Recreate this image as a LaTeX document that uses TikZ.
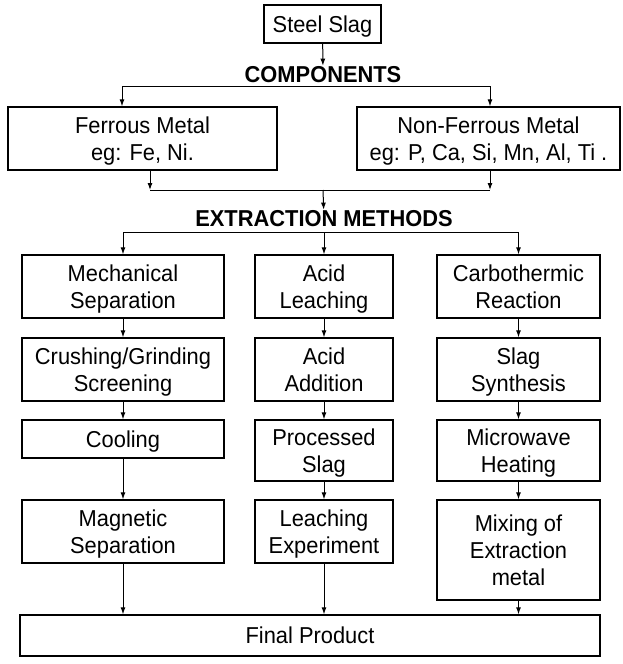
\documentclass[tikz,border=0pt]{standalone}
\usepackage{fontspec}
\setmainfont{Liberation Sans}[FakeStretch=0.95]
\usetikzlibrary{arrows.meta,positioning}

\begin{document}
\begin{tikzpicture}[x=1pt,y=-1pt, >={Latex[length=7pt,width=5pt]},
  box/.style={draw, line width=1.3pt, align=center, inner sep=0pt, text depth=0pt, font=\fontsize{23}{27}\selectfont},
  head/.style={inner sep=1pt, font=\fontsize{23}{27}\selectfont\bfseries},
  link/.style={->, line width=1pt},
  bar/.style={line width=1pt}]
  \useasboundingbox (0,0) rectangle (623,664);

  % top part
  \node[box, minimum width=117, minimum height=38] (slag) at (322.5,24) {Steel Slag};
  \node[head] (comp) at (323,75) {COMPONENTS};
  \node[box, minimum width=269, minimum height=63] (ferrous) at (142.5,138.5) {Ferrous Metal\\eg: Fe, Ni.};
  \node[box, minimum width=263, minimum height=63] (nonferrous) at (488.5,138.5) {Non-Ferrous Metal\\eg: P, Ca, Si, Mn, Al, Ti .};
  \node[head] (extract) at (324,219) {EXTRACTION METHODS};

  % three methods
  \node[box, minimum width=202, minimum height=63] (mech) at (123,286.5) {Mechanical\\Separation};
  \node[box, minimum width=202, minimum height=63] (crush) at (123,369.5) {Crushing/Grinding\\Screening};
  \node[box, minimum width=202, minimum height=38] (cool) at (123,439) {Cooling};
  \node[box, minimum width=202, minimum height=63] (magnet) at (123,531.5) {Magnetic\\Separation};

  \node[box, minimum width=138, minimum height=63] (acid) at (324,286.5) {Acid\\Leaching};
  \node[box, minimum width=138, minimum height=63] (addition) at (324,369.5) {Acid\\Addition};
  \node[box, minimum width=138, minimum height=61] (processed) at (324,450.5) {Processed\\Slag};
  \node[box, minimum width=138, minimum height=63] (leachexp) at (324,531.5) {Leaching\\Experiment};

  \node[box, minimum width=163, minimum height=63] (carbo) at (518.5,286.5) {Carbothermic\\Reaction};
  \node[box, minimum width=163, minimum height=63] (synth) at (518.5,369.5) {Slag\\Synthesis};
  \node[box, minimum width=163, minimum height=61] (micro) at (518.5,450.5) {Microwave\\Heating};
  \node[box, minimum width=163, minimum height=100] (mixing) at (518.5,550) {Mixing of\\Extraction\\metal};

  \node[box, minimum width=580, minimum height=41] (final) at (310,635.5) {Final Product};

  % connectors
  \draw[link] (slag) -- (comp);
  \coordinate (cL) at (122,86);
  \coordinate (cR) at (490,86);
  \draw[bar] (cL) -- (cR);
  \draw[link] (cL) -- (cL |- ferrous.north);
  \draw[link] (cR) -- (cR |- nonferrous.north);

  \coordinate (mL) at (150,190);
  \coordinate (mR) at (490,190);
  \coordinate (mC) at (323,190);
  \draw[link] (mL |- ferrous.south) -- (mL);
  \draw[link] (mR |- nonferrous.south) -- (mR);
  \draw[bar] (mL) -- (mR);
  \draw[link] (mC) -- (extract);

  \coordinate (eL) at (123,232);
  \coordinate (eC) at (324,232);
  \coordinate (eR) at (518.5,232);
  \draw[bar] (eL) -- (eR);
  \draw[link] (eL) -- (mech);
  \draw[link] (eC) -- (acid);
  \draw[link] (eR) -- (carbo);

  \draw[link] (mech) -- (crush);
  \draw[link] (crush) -- (cool);
  \draw[link] (cool) -- (magnet);
  \draw[link] (acid) -- (addition);
  \draw[link] (addition) -- (processed);
  \draw[link] (processed) -- (leachexp);
  \draw[link] (carbo) -- (synth);
  \draw[link] (synth) -- (micro);
  \draw[link] (micro) -- (mixing);

  \draw[link] (magnet) -- (magnet |- final.north);
  \draw[link] (leachexp) -- (leachexp |- final.north);
  \draw[link] (mixing) -- (mixing |- final.north);
\end{tikzpicture}
\end{document}
